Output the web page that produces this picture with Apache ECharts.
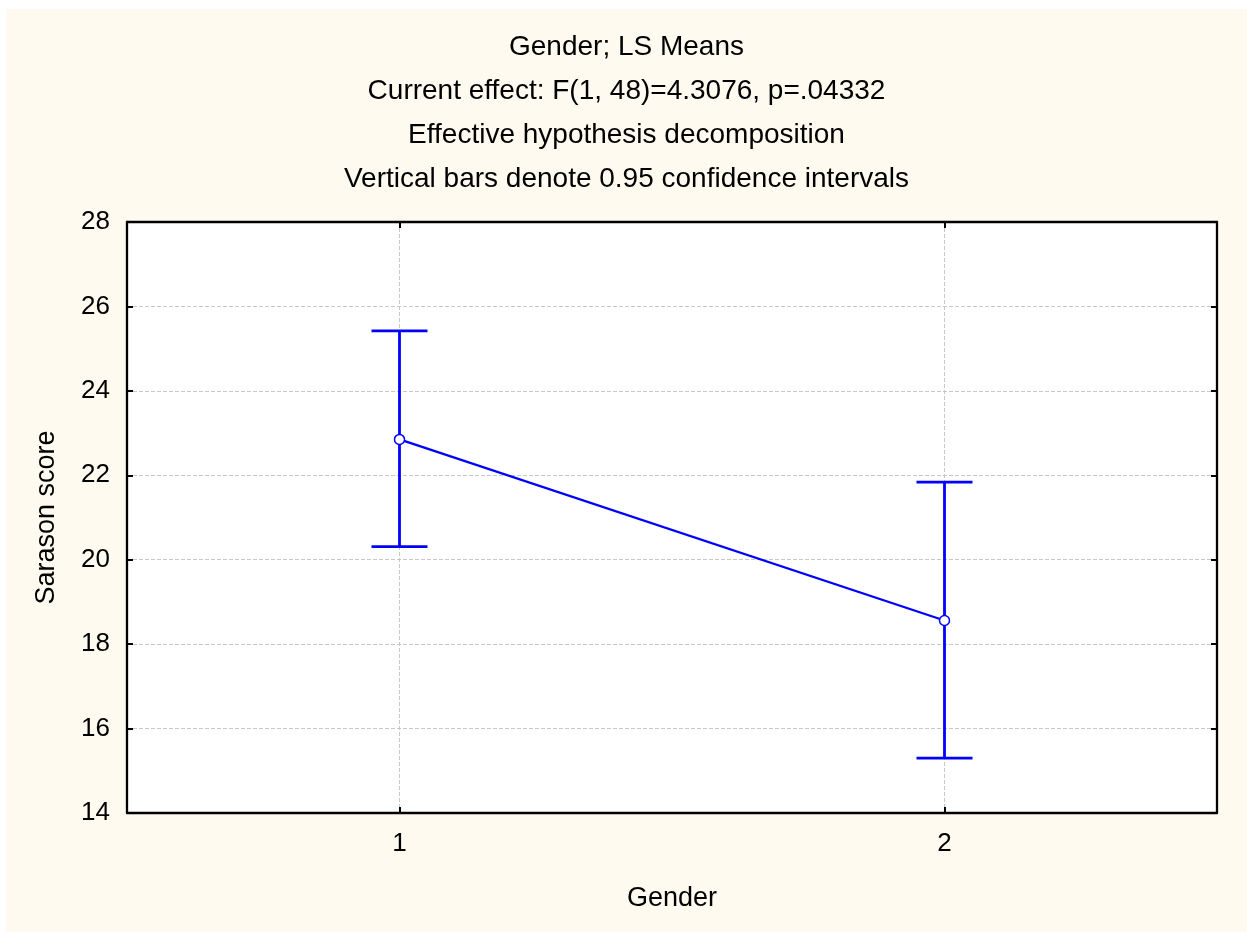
<!DOCTYPE html>
<html>
<head>
<meta charset="utf-8">
<script src="https://cdn.jsdelivr.net/npm/echarts@6/dist/echarts.min.js"></script>
<style>
  html, body { margin: 0; padding: 0; background: #ffffff; }
  #chart { position: absolute; left: 6px; top: 9px; width: 1241px; height: 923px; background: #fefaef; }
</style>
</head>
<body>
<div id="chart"></div>
<script>
// ---- data ----
const categories = [1, 2];
const means = [22.85, 18.56];
const lower = [20.31, 15.30];
const upper = [25.42, 21.84];
const yTicks = [14, 16, 18, 20, 22, 24, 26, 28];
const titleLines = [
  'Gender; LS Means',
  'Current effect: F(1, 48)=4.3076, p=.04332',
  'Effective hypothesis decomposition',
  'Vertical bars denote 0.95 confidence intervals'
];
const xName = 'Gender';
const yName = 'Sarason score';

// ---- chart ----
const FONT = 'Liberation Sans, Arial, sans-serif';
const BLUE = '#0000ff';
const chart = echarts.init(document.getElementById('chart'), null, { renderer: 'canvas' });

const lineData = categories.map((c, i) => [c, means[i]]);
const errData = categories.map((c, i) => [c, lower[i], upper[i]]);

const gridLine = { show: true, lineStyle: { color: '#c8c8c8', type: 'dashed', width: 1 } };
const axisLine = { show: true, onZero: false, lineStyle: { color: '#000', width: 2.3 } };

chart.setOption({
  backgroundColor: 'transparent',
  animation: false,
  title: {
    text: titleLines.join('\n'),
    left: 'center',
    top: 11,
    textStyle: { fontFamily: FONT, fontSize: 28, fontWeight: 'normal', color: '#000', lineHeight: 44 }
  },
  grid: { left: 121, right: 30, top: 213, bottom: 119, show: true, backgroundColor: '#ffffff', borderWidth: 0 },
  xAxis: [
    {
      type: 'value', position: 'bottom', min: 0.5, max: 2.5,
      name: xName, nameLocation: 'middle', nameGap: 72,
      nameTextStyle: { fontFamily: FONT, fontSize: 27, color: '#000' },
      axisLine: axisLine,
      axisTick: { show: true, inside: true, length: 6, customValues: categories, lineStyle: { color: '#000', width: 2 } },
      axisLabel: { customValues: categories, margin: 18, fontFamily: FONT, fontSize: 26, color: '#000' },
      splitLine: gridLine
    },
    {
      type: 'value', position: 'top', min: 0.5, max: 2.5,
      axisLine: axisLine,
      axisTick: { show: true, inside: true, length: 6, customValues: categories, lineStyle: { color: '#000', width: 2 } },
      axisLabel: { show: false },
      splitLine: { show: false }
    }
  ],
  yAxis: [
    {
      type: 'value', position: 'left', min: yTicks[0], max: yTicks[yTicks.length - 1], interval: 2,
      name: yName, nameLocation: 'middle', nameGap: 67,
      nameTextStyle: { fontFamily: FONT, fontSize: 27, color: '#000' },
      axisLine: axisLine,
      axisTick: { show: true, inside: true, length: 6, lineStyle: { color: '#000', width: 2 } },
      axisLabel: { margin: 17, fontFamily: FONT, fontSize: 26, color: '#000' },
      splitLine: gridLine
    },
    {
      type: 'value', position: 'right', min: yTicks[0], max: yTicks[yTicks.length - 1], interval: 2,
      axisLine: axisLine,
      axisTick: { show: true, inside: true, length: 6, lineStyle: { color: '#000', width: 2 } },
      axisLabel: { show: false },
      splitLine: { show: false }
    }
  ],
  series: [
    {
      type: 'custom',
      xAxisIndex: 0, yAxisIndex: 0,
      data: errData,
      z: 3,
      renderItem: function (params, api) {
        const x = api.value(0);
        const lo = api.coord([x, api.value(1)]);
        const hi = api.coord([x, api.value(2)]);
        const hw = 28;
        const style = { stroke: BLUE, lineWidth: 2.8, fill: null };
        return {
          type: 'group',
          children: [
            { type: 'line', shape: { x1: lo[0], y1: lo[1], x2: hi[0], y2: hi[1] }, style: style },
            { type: 'line', shape: { x1: hi[0] - hw, y1: hi[1], x2: hi[0] + hw, y2: hi[1] }, style: style },
            { type: 'line', shape: { x1: lo[0] - hw, y1: lo[1], x2: lo[0] + hw, y2: lo[1] }, style: style }
          ]
        };
      }
    },
    {
      type: 'line',
      xAxisIndex: 0, yAxisIndex: 0,
      data: lineData,
      z: 5,
      symbol: 'circle',
      symbolSize: 10,
      lineStyle: { color: BLUE, width: 2.3 },
      itemStyle: { color: '#ffffff', borderColor: BLUE, borderWidth: 1.5 }
    }
  ]
});
</script>
</body>
</html>
